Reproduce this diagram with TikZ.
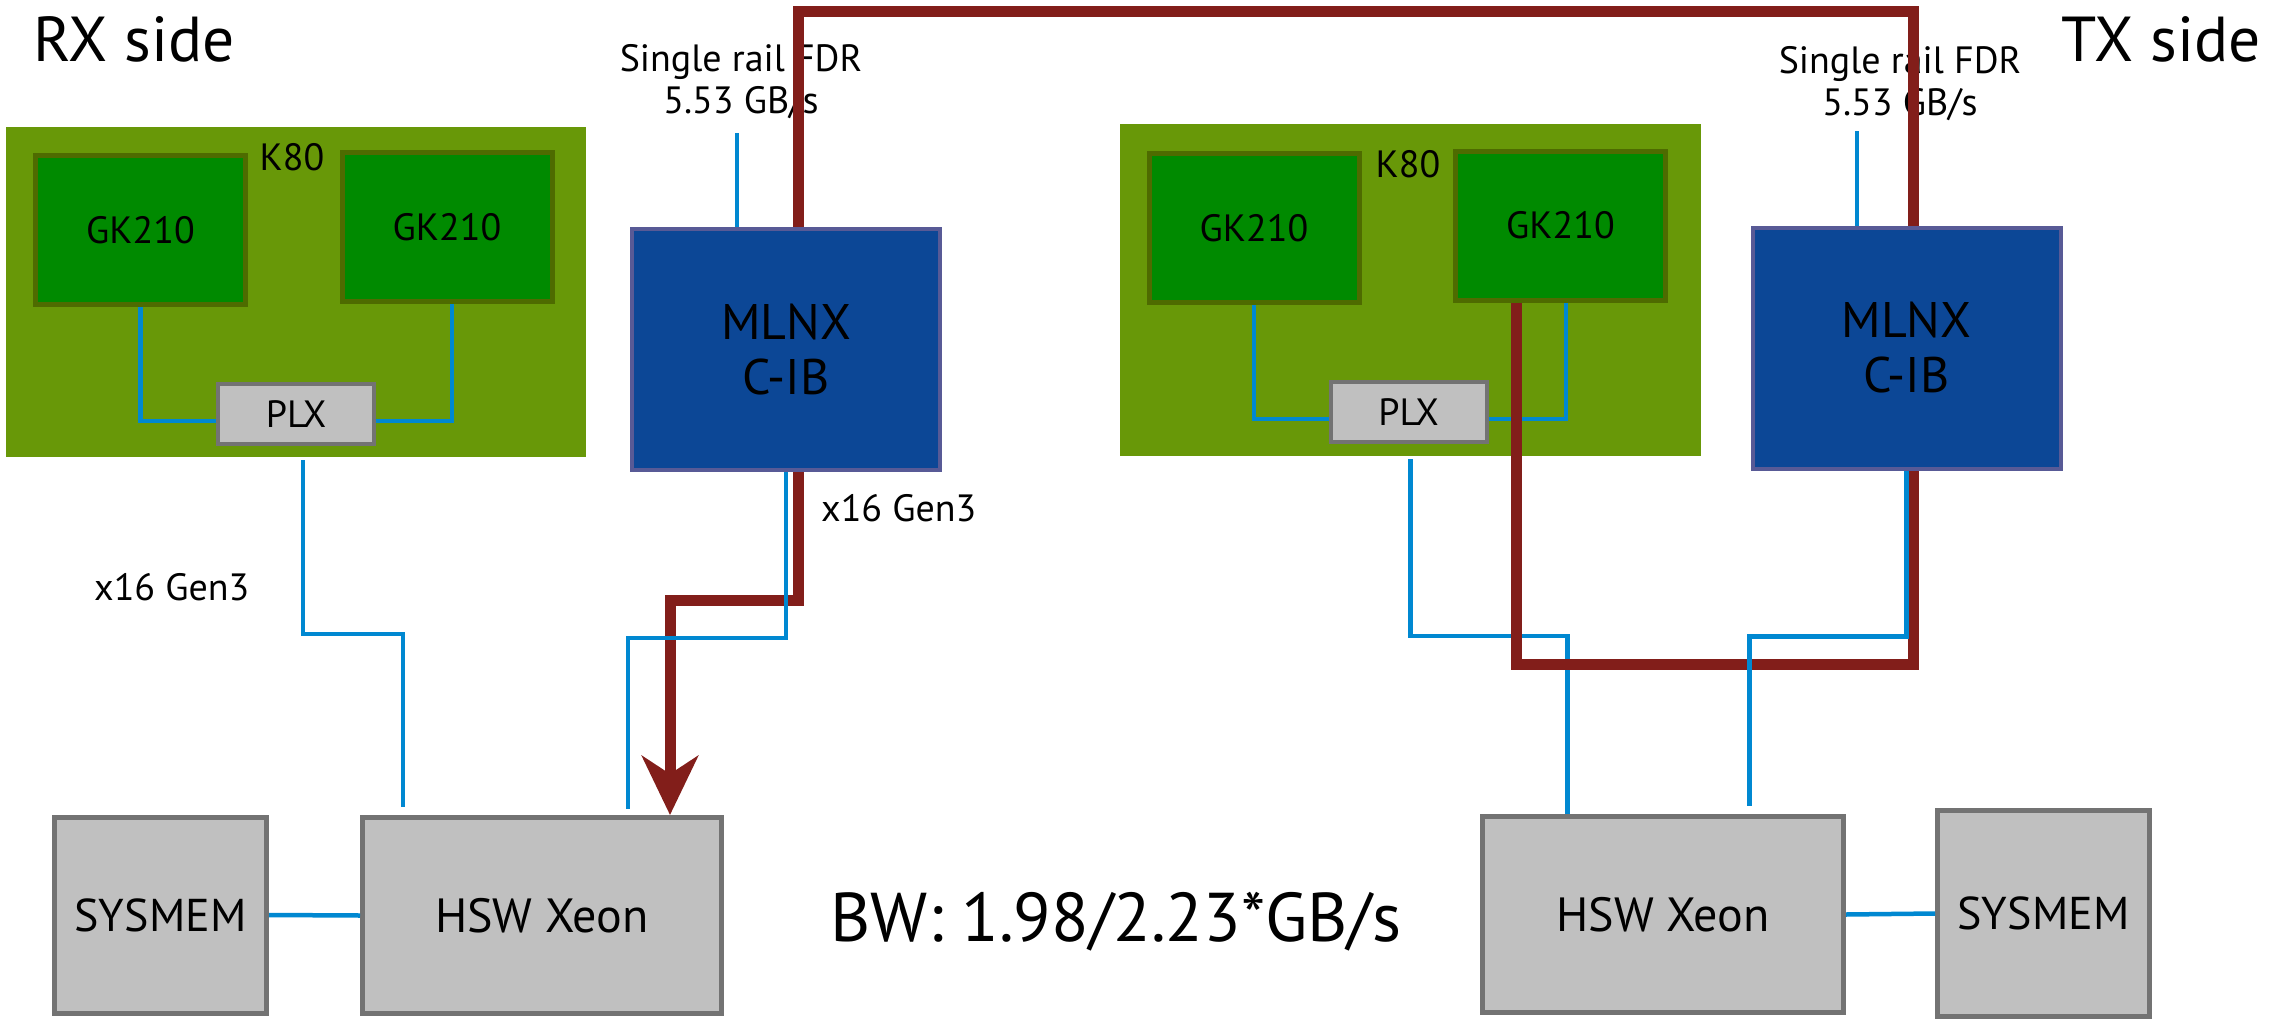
\documentclass[tikz,border=0pt]{standalone}
\usepackage{fontspec}
\setmainfont{PT Sans}
\usepackage{xcolor}
\usetikzlibrary{arrows.meta,positioning}
\definecolor{BoardGreen}{RGB}{104,152,8}
\definecolor{ChipGreen}{RGB}{0,138,0}
\definecolor{ChipEdge}{RGB}{78,107,0}
\definecolor{NicBlue}{RGB}{12,71,150}
\definecolor{NicEdge}{RGB}{88,90,150}
\definecolor{BoxGray}{RGB}{192,192,192}
\definecolor{BoxEdge}{RGB}{115,115,115}
\definecolor{WireBlue}{RGB}{0,136,209}
\definecolor{PathRed}{RGB}{130,30,26}

\begin{document}
\begin{tikzpicture}[
    x=1pt, y=-1pt,
    board/.style={fill=BoardGreen, inner sep=0pt},
    chip/.style={draw=ChipEdge, fill=ChipGreen, line width=5pt, inner sep=0pt,
      minimum width=210pt, minimum height=149pt, font=\fontsize{38}{42}\selectfont},
    plx/.style={draw=BoxEdge, fill=BoxGray, line width=4pt, inner sep=0pt,
      minimum width=156pt, minimum height=60pt, font=\fontsize{38}{42}\selectfont},
    nic/.style={draw=NicEdge, fill=NicBlue, line width=4pt, inner sep=0pt, align=center,
      minimum width=308pt, minimum height=241pt, font=\fontsize{50}{55}\selectfont},
    host/.style={draw=BoxEdge, fill=BoxGray, line width=5pt, inner sep=0pt,
      minimum height=196pt},
    pcie/.style={draw=WireBlue, line width=4.5pt},
    rdma/.style={draw=PathRed, line width=11pt},
    caption/.style={inner sep=0pt, font=\fontsize{38}{42}\selectfont, align=center},
  ]
  \useasboundingbox (0,0) rectangle (2270,1025);

  % RX side
  \node[board, minimum width=580pt, minimum height=330pt] (k80L) at (296,292) {};
  \node[chip] (gkL1) at (140.5,230) {GK210};
  \node[chip] (gkL2) at (447,227) {GK210};
  \node[plx] (plxL) at (296,414) {PLX};
  \node[caption, anchor=base] (k80Lname) at (292,170) {K80};
  \node[host, minimum width=212pt, font=\fontsize{46}{50}\selectfont] (memL) at (160.5,915) {SYSMEM};
  \node[host, minimum width=359pt, font=\fontsize{48}{52}\selectfont] (hswL) at (542,915.5) {HSW Xeon};

  % TX side
  \node[board, minimum width=581pt, minimum height=332pt] (k80R) at (1410.5,290) {};
  \node[chip] (gkR1) at (1254,228) {GK210};
  \node[chip] (gkR2) at (1560.5,225.5) {GK210};
  \node[plx] (plxR) at (1408.5,412) {PLX};
  \node[caption, anchor=base] (k80Rname) at (1408,177) {K80};
  \node[host, minimum width=361pt, font=\fontsize{48}{52}\selectfont] (hswR) at (1663,914.5) {HSW Xeon};
  \node[host, minimum width=212pt, minimum height=206pt, font=\fontsize{46}{50}\selectfont] (memR) at (2043.5,913.5) {SYSMEM};

  % labels
  \node[inner sep=0pt, anchor=base west, font=\fontsize{63.5}{70}\selectfont] (rxside) at (33,62) {RX side};
  \node[inner sep=0pt, anchor=base east, font=\fontsize{63.5}{70}\selectfont] (txside) at (2261,62) {TX side};
  \node[caption, anchor=north] (fdrL) at (741,44) {Single rail FDR\\5.53 GB/s};
  \node[caption, anchor=north] (fdrR) at (1900,46) {Single rail FDR\\5.53 GB/s};
  \node[caption, anchor=base west] (genL) at (94,600) {x16 Gen3};
  \node[caption, anchor=base west] (genM) at (821,521) {x16 Gen3};
  \node[inner sep=0pt, anchor=base, font=\fontsize{69}{75}\selectfont] (bw) at (1116,941) {BW: 1.98/2.23*GB/s};

  % PCIe links
  \draw[pcie] (gkL1.south) |- ([yshift=-7pt]plxL.west);
  \draw[pcie] ([xshift=5pt]gkL2.south) |- ([yshift=-7pt]plxL.east);
  \draw[pcie] (gkR1.south) |- ([yshift=-7pt]plxR.west);
  \draw[pcie] ([xshift=5.5pt]gkR2.south) |- ([yshift=-7pt]plxR.east);
  \draw[pcie, shorten >=8pt] ([xshift=7pt]k80L.south) ++(0,3) |- ++(100,174) coordinate (jL) -- (jL |- hswL.north);
  \draw[pcie] ([xshift=0pt]k80R.south) ++(0,3) |- ++(157,177) coordinate (jR) -- (jR |- hswR.north);
  \draw[pcie] (memL.east) -- (hswL.west);
  \draw[pcie] (hswR.east) -- (memR.west);

  % GPUDirect RDMA path
  \coordinate (railL) at (798,12);
  \coordinate (railR) at (1913,12);
  \draw[rdma, -{Stealth[length=59pt, width=56pt, inset=18pt]}]
    ([xshift=-44pt]gkR2.south) -- ++(0,362) -| (railR) -- (railL)
    -- ++(0,588) -| ([xshift=-54pt]hswL.north east);

  % NICs
  \node[nic] (mlnxL) at (786,349.5) {MLNX\\C-IB};
  \node[nic] (mlnxR) at (1906.5,348) {MLNX\\C-IB};
  \draw[pcie] ([xshift=-49pt]mlnxL.north) -- ++(0,-94);
  \draw[pcie] ([xshift=-49.5pt]mlnxR.north) -- ++(0,-95);
  \draw[pcie, shorten >=6pt] (mlnxL.south) |- ++(-158,166) coordinate (jM) -- (jM |- hswL.north);
  \draw[pcie, shorten >=8pt] (mlnxR.south) |- ++(-157,166) coordinate (jN) -- (jN |- hswR.north);
\end{tikzpicture}
\end{document}
